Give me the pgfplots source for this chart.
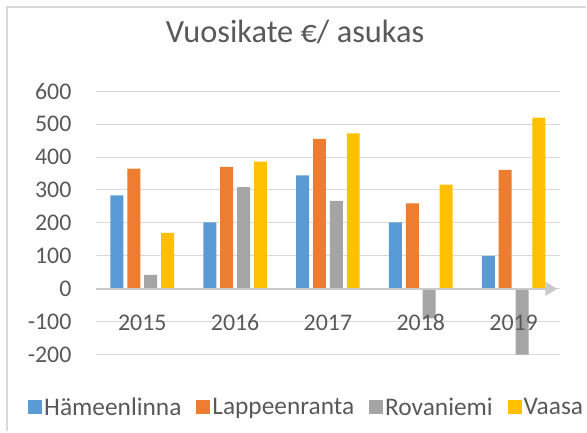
\documentclass[border=0pt]{standalone}
\usepackage{pgfplots}
\pgfplotsset{compat=1.18}
\usepackage{fontspec}
\setmainfont{Carlito}
\usetikzlibrary{arrows.meta}
\definecolor{cHam}{HTML}{5B9BD5}
\definecolor{cLap}{HTML}{ED7D31}
\definecolor{cRov}{HTML}{A5A5A5}
\definecolor{cVaa}{HTML}{FFC000}
\definecolor{ctext}{HTML}{595959}
\definecolor{cgrid}{HTML}{D9D9D9}
\definecolor{czero}{HTML}{CACACA}
\begin{document}
\begin{tikzpicture}
\draw[color=cgrid, line width=2bp] (7.5bp,0bp) -- (7.5bp,424.5bp) -- (587bp,424.5bp);
\node[anchor=base, text=ctext, font=\fontsize{32.5}{38}\selectfont, inner sep=0pt] at (295.5bp,389.3bp) {Vuosikate €/ asukas};
\begin{axis}[
  at={(96bp,76.7bp)}, anchor=south west,
  scale only axis, width=465bp, height=264bp,
  xmin=-0.5, xmax=4.5, ymin=-200, ymax=600,
  ybar=3.9bp, bar width=13bp,
  axis line style={draw=none},
  major tick length=0pt,
  ytick={-200,-100,...,600},
  xtick={0,1,2,3,4}, xticklabels={},
  /pgf/number format/assume math mode=true,
  ymajorgrids, grid style={color=cgrid, line width=1bp},
  tick label style={font=\fontsize{24}{28}\selectfont, text=ctext},
  yticklabel style={anchor=east, xshift=-21bp},
  legend columns=4,
  legend style={at={(-0.146,-0.2)}, anchor=west, draw=none, fill=none, inner sep=0pt,
    font=\fontsize{25.5}{29}\selectfont, text=ctext,
    /tikz/every even column/.append style={column sep=13bp}},
  legend image code/.code={\fill[#1, draw=none] (0bp,-7bp) rectangle (14bp,7bp);},
]
\addplot[fill=cHam, draw=none] coordinates {(0,284) (1,202) (2,344) (3,202) (4,100)};
\addplot[fill=cLap, draw=none] coordinates {(0,365) (1,370) (2,455) (3,259) (4,361)};
\addplot[fill=cRov, draw=none] coordinates {(0,42) (1,309) (2,267) (3,-90) (4,-200)};
\addplot[fill=cVaa, draw=none] coordinates {(0,170) (1,386) (2,472) (3,316) (4,520)};
\legend{Hämeenlinna, Lappeenranta, Rovaniemi, Vaasa}
\draw[color=czero, line width=1.5bp, -{Triangle[length=12bp,width=14bp]}] (axis cs:-0.5,0) -- (axis cs:4.47,0);
\tikzset{yearlab/.style={anchor=base, yshift=24.6bp, inner sep=0pt, text=ctext, font=\fontsize{24}{28}\selectfont}}
\node[yearlab] at (axis cs:0,-200) {2015};
\node[yearlab] at (axis cs:1,-200) {2016};
\node[yearlab] at (axis cs:2,-200) {2017};
\node[yearlab] at (axis cs:3,-200) {2018};
\node[yearlab] at (axis cs:4,-200) {2019};
\end{axis}
\path[use as bounding box] (0,0) rectangle (587bp,432bp);
\end{tikzpicture}
\end{document}
